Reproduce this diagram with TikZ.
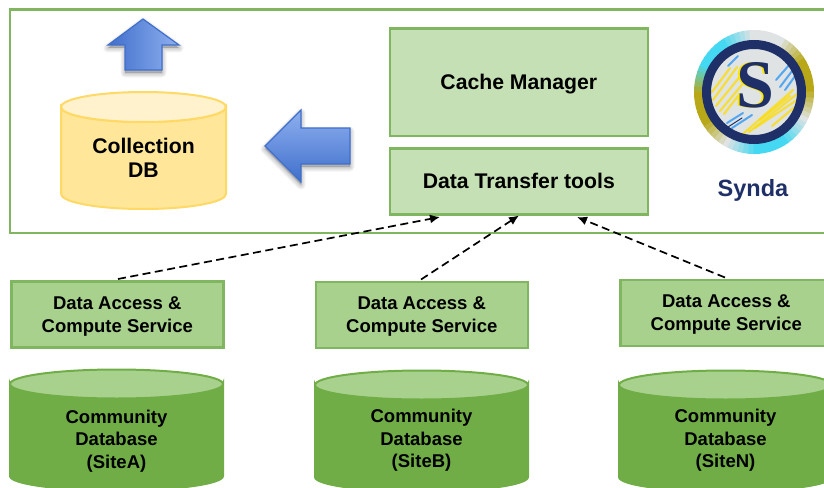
\documentclass[tikz,border=0pt]{standalone}
\usepackage{fontspec}
\setmainfont{Liberation Sans}
\usetikzlibrary{arrows.meta}
\definecolor{frameG}{HTML}{7FB65F}
\definecolor{boxL}{HTML}{C5E0B4}
\definecolor{boxM}{HTML}{A9D18E}
\definecolor{cylG}{HTML}{70AD47}
\definecolor{cylY}{HTML}{FFE699}
\definecolor{cylYt}{HTML}{FFF2CC}
\definecolor{cylYb}{HTML}{FFD966}
\definecolor{blueD}{HTML}{3F6FCB}
\definecolor{blueL}{HTML}{8FB0F0}
\definecolor{navy}{HTML}{1F3068}
\definecolor{gold}{HTML}{B8A818}
\definecolor{cyanL}{HTML}{45D8F2}
\definecolor{pale}{HTML}{DFE3E3}
\newcommand{\dropbox}[2]{\raisebox{0pt}[\dimexpr\height+#1\relax][\depth]{#2}}
\newcommand{\daslabel}{\dropbox{4pt}{\begin{tabular}{@{}c@{}}Data Access \&\\[0.5pt]Compute Service\end{tabular}}}
\tikzset{
  x=1pt,y=-1pt,
  lblbig/.style={font=\bfseries\fontsize{21.2}{24}\selectfont,align=center,text=black},
  lblsmall/.style={font=\bfseries\fontsize{18.5}{22.5}\selectfont,align=center,text=black},
  lightbox/.style={draw=frameG,line width=2.6pt,fill=boxL,minimum width=258pt,anchor=north west,inner sep=0pt,lblbig},
  dasbox/.style={draw=frameG,line width=2.6pt,fill=boxM,minimum width=212pt,minimum height=66pt,anchor=north west,inner sep=0pt,lblsmall},
  flow/.style={dash pattern=on 8pt off 4.5pt,line width=1.7pt,black,-{Latex[length=10pt,width=9pt]}},
  bluearrow/.style={draw=blueD,line width=1.2pt,line join=miter},
  softshadow/.style={black,opacity=.045,line join=round},
  streak/.style={line width=#1,line cap=round},
  streak/.default=2pt,
}
\begin{document}
\begin{tikzpicture}
\useasboundingbox (0,0) rectangle (824,487);
\clip (0,0) rectangle (824,487);
% frame
\draw[frameG,line width=2.6pt] (840,9.5) -- (10,9.5) -- (10,233) -- (840,233);
% boxes
\node[lightbox,minimum height=107.5pt] (cache) at (388.5,27) {\dropbox{4pt}{Cache Manager}};
\node[lightbox,minimum height=66pt] (transfer) at (388.5,147) {Data Transfer tools};
% yellow cylinder
\fill[cylY,draw=cylYb,line width=2pt] (61,107) -- (61,194) arc[start angle=180,delta angle=-180,x radius=82.5,y radius=15] -- (226,107) arc[start angle=0,delta angle=180,x radius=82.5,y radius=15] -- cycle;
\fill[cylYt,draw=cylYb,line width=2pt] (143.5,107) ellipse[x radius=82.5,y radius=15];
\node[lblbig] (colldb) at (143.5,158) {Collection\\DB};
% blue arrows
\foreach \w in {9,7,5,3,1}{
  \filldraw[softshadow,line width=\w pt] (108,48) -- (143,22) -- (179,48) -- (162,48) -- (162,73) -- (125,73) -- (125,48) -- cycle;
  \filldraw[softshadow,line width=\w pt] (265,149) -- (301,113) -- (301,131) -- (350,131) -- (350,167) -- (301,167) -- (301,185) -- cycle;
}
\path[bluearrow,left color=blueD,right color=blueL] (108,45) -- (143,19) -- (179,45) -- (162,45) -- (162,70) -- (125,70) -- (125,45) -- cycle;
\path[bluearrow,top color=blueL,bottom color=blueD] (265,146) -- (301,110) -- (301,128) -- (350,128) -- (350,164) -- (301,164) -- (301,182) -- cycle;
% logo: outer rim with colours that run into each other round the circle
\begin{scope}
  \clip (754,92) ellipse[x radius=60,y radius=62];
  \foreach \a/\ca/\cb in {0/gold/gold,30/gold/pale,60/pale/pale,90/pale/cyanL,120/cyanL/cyanL,150/cyanL/gold,180/gold/gold,210/gold/pale,240/pale/cyanL,270/cyanL/cyanL,300/cyanL/pale,330/pale/gold}{
    \foreach \t in {0,5,10,15,20,25}{
      \pgfmathsetmacro{\mixv}{100-\t*100/30}
      \colorlet{rimc}{\ca!\mixv!\cb}
      \fill[rimc] (754,92) -- ({754+90*cos(\a+\t-0.5)},{92-90*sin(\a+\t-0.5)}) -- ({754+90*cos(\a+\t+5.5)},{92-90*sin(\a+\t+5.5)}) -- cycle;
    }
  }
\end{scope}
\fill[pale] (754,92) circle[radius=46];
\begin{scope}
  \clip (754,92) circle[radius=46];
  \foreach \a/\b/\c/\d in {713/100/737/67,716/106/742/74,720/111/746/80,712/92/730/68,724/114/738/96,743/134/793/90,749/132/797/94,755/128/800/98,760/120/790/96,772/126/796/106}
    {\draw[streak=2.2pt,yellow!80!orange,opacity=.75] (\a,\b) -- (\c,\d);}
  \foreach \a/\b/\c/\d in {727/123/743/113,732/128/752/115,780/87/795/67,785/90/798/72,776/80/790/64,728/66/738/56}
    {\draw[streak=2pt,cyanL!70!blue,opacity=.8] (\a,\b) -- (\c,\d);}
  \draw[streak=1pt,navy] (728,127) -- (742,118);
\end{scope}
\draw[navy,line width=9pt] (754,92) circle[radius=47.5];
\node[font=\fontsize{68}{68}\selectfont\bfseries,text=yellow!90!orange,inner sep=0pt] (logoSb) at (753,85) {\fontspec{Liberation Serif}S};
\node[font=\fontsize{68}{68}\selectfont\bfseries,text=navy,inner sep=0pt] (logoS) at (755,85) {\fontspec{Liberation Serif}S};
\node[font=\bfseries\fontsize{23.5}{26}\selectfont,text=navy] (synda) at (753,190.5) {Synda};
% lower boxes
\node[dasbox] (dasA) at (10,280) {\daslabel};
\node[dasbox] (dasB) at (314.5,280.5) {\daslabel};
\node[dasbox] (dasN) at (619,278.5) {\daslabel};
% green cylinders
\foreach \x/\y/\n/\s/\d in {10/384/A/SiteA/57,315/385/B/SiteB/55.5,619/385/N/SiteN/55.5}{
  \fill[cylG,draw=cylG,line width=2pt] (\x,\y) -- (\x,\y+92) arc[start angle=180,delta angle=-180,x radius=106.5,y radius=14.5] -- (\x+213,\y) arc[start angle=0,delta angle=180,x radius=106.5,y radius=14.5] -- cycle;
  \fill[boxM,draw=cylG,line width=2pt] (\x+106.5,\y) ellipse[x radius=106.5,y radius=14.5];
  \node[lblsmall] (cyl\n) at (\x+106.5,\y+\d) {Community\\Database\\(\s)};
}
% connectors
\coordinate (tA) at (440,217);
\coordinate (tB) at (519,215.5);
\coordinate (tN) at (577,217);
\coordinate (sA) at (118,279);
\coordinate (sB) at (421,279.5);
\coordinate (sN) at (725,277.5);
\draw[flow] (sA) -- (tA);
\draw[flow] (sB) -- (tB);
\draw[flow] (sN) -- (tN);
\end{tikzpicture}
\end{document}
